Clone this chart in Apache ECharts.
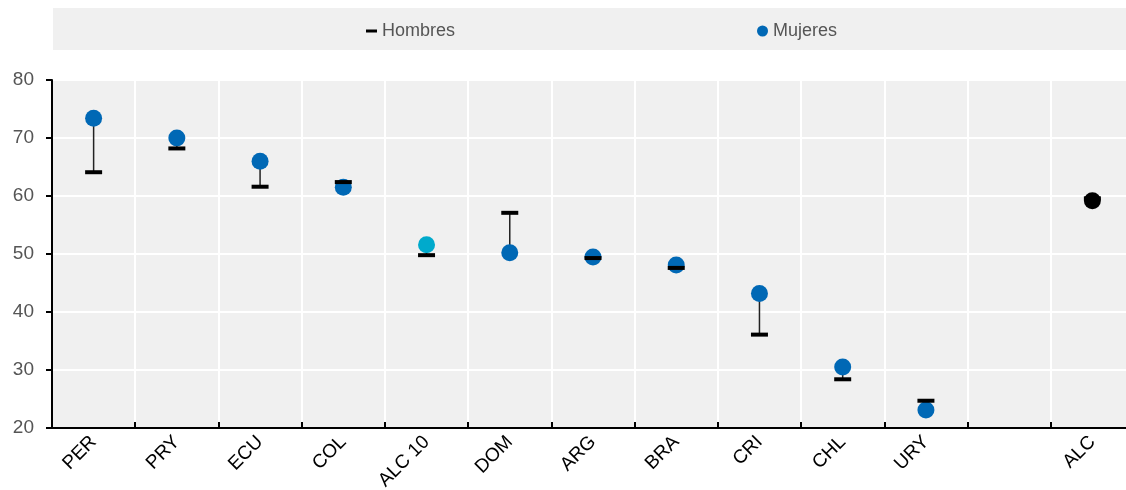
<!DOCTYPE html>
<html><head><meta charset="utf-8">
<script src="https://cdn.jsdelivr.net/npm/echarts@6/dist/echarts.min.js"></script>
<style>html,body{margin:0;padding:0;background:#fff;overflow:hidden}#c{width:1134px;height:490px}</style>
</head><body><div id="c"></div>
<script>
const categories = ['PER','PRY','ECU','COL','ALC 10','DOM','ARG','BRA','CRI','CHL','URY','','ALC'];
const hombres = [64.1, 68.2, 61.6, 62.4, 49.8, 57.1, 49.3, 47.6, 36.1, 28.4, 24.7, null, 59.6];
const mujeres = [73.4, 70.0, 66.0, 61.5, 51.6, 50.2, 49.5, 48.1, 43.2, 30.5, 23.1, null, 59.2];
const yTicks = [20, 30, 40, 50, 60, 70, 80];

const FONT = '"Liberation Sans Narrow", "Arial Narrow", "Liberation Sans", Arial, sans-serif';
const BLUE = '#0068b5', CYAN = '#00aacc', BLACK = '#000';

const mujeresData = mujeres.map((v, i) => {
  if (v == null) return '-';
  let c = BLUE;
  if (categories[i] === 'ALC 10') c = CYAN;
  if (categories[i] === 'ALC') c = BLACK;
  return { value: v, itemStyle: { color: c } };
});
const hombresData = hombres.map(v => v == null ? '-' : v);
const rangeData = categories.map((c, i) => hombres[i] == null ? null : [i, hombres[i], mujeres[i]]).filter(Boolean);

const chart = echarts.init(document.getElementById('c'), null, { renderer: 'canvas' });
chart.setOption({
  animation: false,
  textStyle: { fontFamily: FONT },
  graphic: [{ type: 'rect', left: 53, top: 8, shape: { width: 1081, height: 42 }, style: { fill: '#f0f0f0' }, z: -10 }],
  legend: {
    left: 361, top: 17, itemGap: 302, itemWidth: 11, itemHeight: 11,
    textStyle: { fontFamily: FONT, fontSize: 18, color: '#555' },
    data: [
      { name: 'Hombres', icon: 'path://M0,0 h11 v3 h-11 z', itemStyle: { color: BLACK } },
      { name: 'Mujeres', icon: 'circle', itemStyle: { color: BLUE } }
    ]
  },
  grid: { left: 52, top: 80, bottom: 62, right: 0, outerBoundsMode: 'none', containLabel: false, show: true, backgroundColor: '#f0f0f0', borderWidth: 0 },
  xAxis: {
    type: 'category', data: categories, boundaryGap: true,
    axisLine: { lineStyle: { color: '#000', width: 2 } },
    axisTick: { show: true, inside: true, length: 6, lineStyle: { color: '#000', width: 2 }, alignWithLabel: false },
    axisLabel: { rotate: 45, color: '#000', fontSize: 19, fontFamily: FONT, margin: 11, interval: 0 },
    splitLine: { show: true, lineStyle: { color: '#fff', width: 2 } }
  },
  yAxis: {
    type: 'value', min: yTicks[0], max: yTicks[yTicks.length - 1], interval: 10,
    axisLine: { show: true, lineStyle: { color: '#000', width: 2 } },
    axisTick: { show: true, length: 6, lineStyle: { color: '#000', width: 2 } },
    axisLabel: { color: '#555', fontSize: 19, fontFamily: FONT, margin: 18 },
    splitLine: { show: true, lineStyle: { color: '#fff', width: 2 } }
  },
  series: [
    {
      type: 'custom', name: 'range', silent: true, z: 1,
      renderItem: function (params, api) {
        const a = api.coord([api.value(0), api.value(1)]);
        const b = api.coord([api.value(0), api.value(2)]);
        return { type: 'line', shape: { x1: a[0], y1: a[1], x2: b[0], y2: b[1] }, style: { stroke: '#222', lineWidth: 1.5 } };
      },
      encode: { x: 0, y: [1, 2] },
      data: rangeData
    },
    {
      type: 'scatter', name: 'Mujeres', symbol: 'circle', symbolSize: 17, z: 3,
      itemStyle: { color: BLUE, opacity: 1 }, data: mujeresData
    },
    {
      type: 'scatter', name: 'Hombres', symbol: 'rect', symbolSize: [17, 4], z: 4,
      itemStyle: { color: BLACK, opacity: 1 }, data: hombresData
    }
  ]
});
</script></body></html>
